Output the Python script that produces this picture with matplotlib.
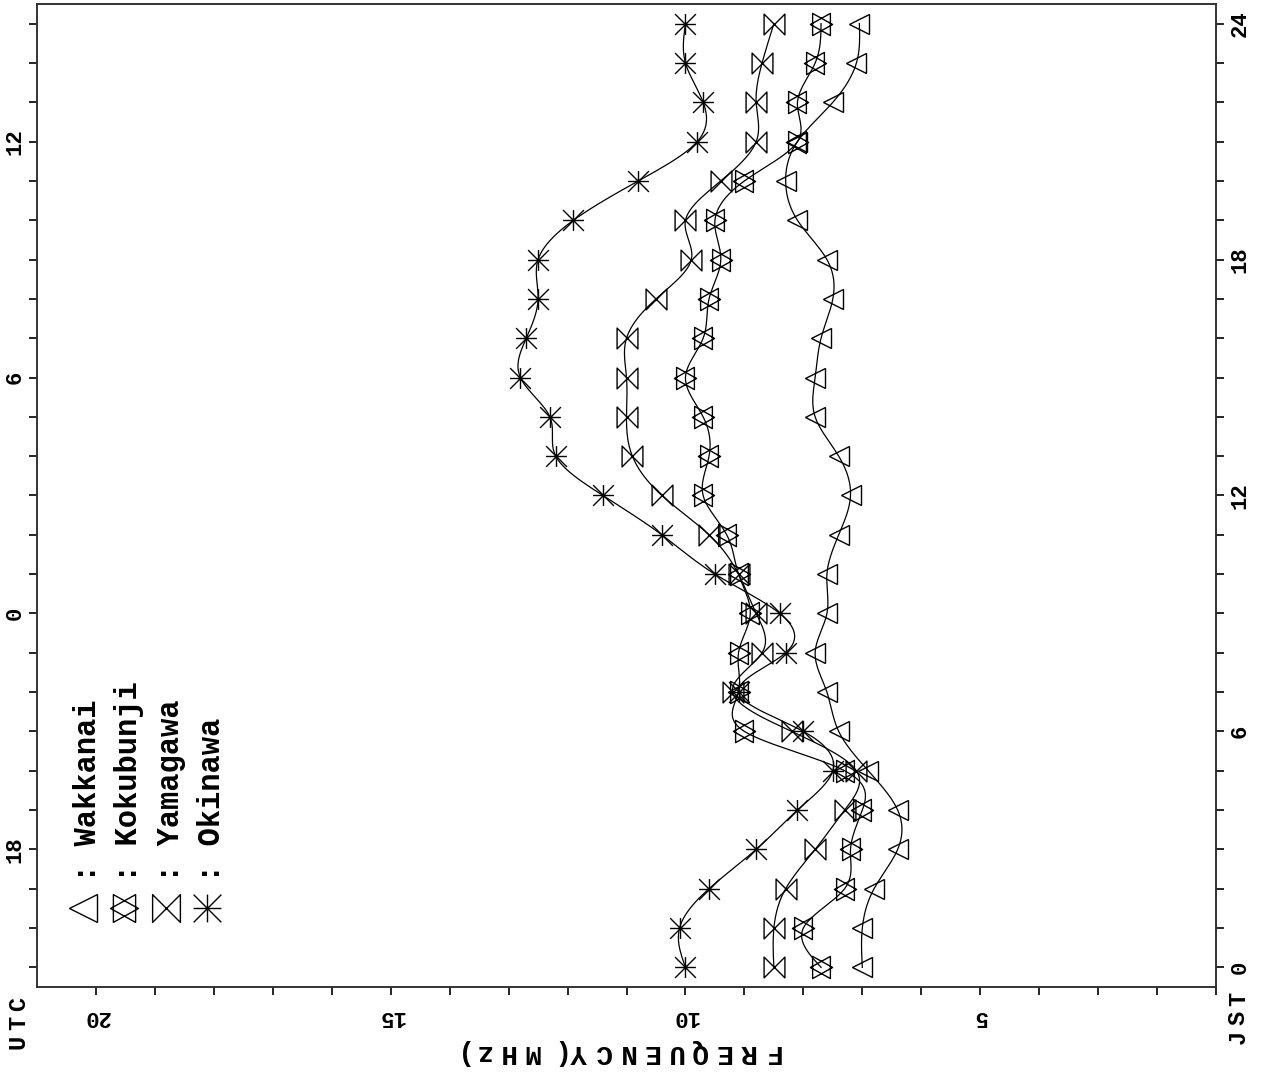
import numpy as np
import matplotlib
matplotlib.use("Agg")
import matplotlib.pyplot as plt
from matplotlib.path import Path

plt.rcParams['font.family'] = ['Liberation Mono', 'DejaVu Sans Mono']
plt.rcParams['font.weight'] = 'bold'

W, H = 1263, 1075

# JST hour of each reading
hours = list(range(25))

# frequencies (MHz), one per hour JST 0..24
wakkanai = [7.0, 7.0, 6.8, 6.4, 6.4, 6.9, 7.4, 7.6, 7.8, 7.6, 7.6, 7.4, 7.2,
            7.4, 7.8, 7.8, 7.7, 7.5, 7.6, 8.1, 8.3, 8.1, 7.5, 7.1, 7.05]
kokubunji = [7.7, 8.0, 7.3, 7.2, 7.0, 7.3, 9.0, 9.1, 9.1, 8.9, 9.1, 9.3, 9.7,
             9.6, 9.7, 10.0, 9.7, 9.6, 9.4, 9.5, 9.0, 8.1, 8.1, 7.8, 7.7]
yamagawa = [8.5, 8.5, 8.3, 7.8, 7.3, 7.1, 8.2, 9.2, 8.7, 8.8, 9.1, 9.6, 10.4,
            10.9, 11.0, 11.0, 11.0, 10.5, 9.9, 10.0, 9.4, 8.8, 8.8, 8.7, 8.5]
okinawa = [10.0, 10.1, 9.6, 8.8, 8.1, 7.5, 8.0, 9.1, 8.3, 8.4, 9.5, 10.4, 11.4,
           12.2, 12.3, 12.8, 12.7, 12.5, 12.5, 11.9, 10.8, 9.8, 9.7, 10.0, 10.0]

stations = ['Wakkanai', 'Kokubunji', 'Yamagawa', 'Okinawa']
series = [wakkanai, kokubunji, yamagawa, okinawa]

# marker shapes (the chart is drawn turned on its side)
L, M, C = Path.LINETO, Path.MOVETO, Path.CLOSEPOLY
hexagram = Path([(-1, 0), (0.8, 1), (0.8, -1), (-1, 0),
                 (1, 0), (-0.8, 1), (-0.8, -1), (1, 0)],
                [M, L, L, C, M, L, L, C])
bowtie = Path([(-1, 1), (1, -1), (1, 1), (-1, -1), (-1, 1)],
              [M, L, L, L, C])
asterisk = Path([(-1, 0), (1, 0), (0, -1), (0, 1),
                 (-1, -1), (1, 1), (-1, 1), (1, -1)],
                [M, L, M, L, M, L, M, L])
markers = ['<', hexagram, bowtie, asterisk]
sizes = [14, 16, 15, 15]


def smooth(t, v, n=12):
    # natural cubic spline, only used to draw the connecting curve
    t = np.asarray(t, float)
    v = np.asarray(v, float)
    k = len(t)
    h = np.diff(t)
    A = np.zeros((k, k))
    r = np.zeros(k)
    A[0, 0] = A[-1, -1] = 1
    for i in range(1, k - 1):
        A[i, i - 1] = h[i - 1]
        A[i, i] = 2 * (h[i - 1] + h[i])
        A[i, i + 1] = h[i]
        r[i] = 6 * ((v[i + 1] - v[i]) / h[i] - (v[i] - v[i - 1]) / h[i - 1])
    Mm = np.linalg.solve(A, r)
    tt = np.linspace(t[0], t[-1], (k - 1) * n + 1)
    idx = np.clip(np.searchsorted(t, tt) - 1, 0, k - 2)
    a, b = t[idx], t[idx + 1]
    hh = b - a
    s = (Mm[idx] * (b - tt) ** 3 + Mm[idx + 1] * (tt - a) ** 3) / (6 * hh) \
        + (v[idx] / hh - Mm[idx] * hh / 6) * (b - tt) \
        + (v[idx + 1] / hh - Mm[idx + 1] * hh / 6) * (tt - a)
    return tt, s


def spaced(fig, x, y, s, pitch, rot, size):
    # letter-spaced text, x/y in pixels from the top left; x,y = start of baseline
    for i, ch in enumerate(s):
        if rot == 180:
            px, py = x - i * pitch, y
        else:  # 90
            px, py = x, y - i * pitch
        fig.text(px / W, 1 - py / H, ch, rotation=rot, rotation_mode='anchor',
                 ha='center', va='baseline', fontsize=size)


fig = plt.figure(figsize=(W / 100, H / 100), dpi=100)
ax = fig.add_axes([37 / W, 1 - 987 / H, 1179 / W, 983 / H])

for vals, mk, ms in zip(series, markers, sizes):
    tt, ss = smooth(hours, vals)
    ax.plot(ss, tt, color='black', lw=0.9)
    ax.plot(vals, hours, linestyle='none', marker=mk, ms=ms,
            mfc='none', mec='black', mew=1.0)

ax.set_xlim(21, 1)
ax.set_ylim(-0.5, 24.5)

# frequency axis (bottom, upside down labels)
ax.set_xticks(range(1, 21))
ax.set_xticklabels([str(f) if f % 5 == 0 else '' for f in range(1, 21)],
                   rotation=180, fontsize=16)
ax.tick_params(axis='x', direction='out', length=6, width=1.2, pad=8)

# UTC on the left, JST on the right
ax.set_yticks(hours)
ax.set_yticklabels([str((h - 9) % 24) if (h - 3) % 6 == 0 else '' for h in hours],
                   rotation=90, va='center', fontsize=16)
ax.tick_params(axis='y', direction='out', length=6, width=1.2, pad=2)

ax2 = ax.twinx()
ax2.set_ylim(-0.5, 24.5)
ax2.set_yticks(hours)
ax2.set_yticklabels([str(h) if h % 6 == 0 else '' for h in hours],
                    rotation=90, va='center', fontsize=16)
ax2.tick_params(axis='y', direction='out', length=6, width=1.2, pad=4)

for a in (ax, ax2):
    for sp in a.spines.values():
        sp.set_linewidth(1.2)
        sp.set_color('#333333')

spaced(fig, 25, 1042, 'UTC', 19, 90, 17)
spaced(fig, 1245, 1037, 'JST', 19, 90, 17)
spaced(fig, 771, 1045, 'FREQUENCY(MHz)', 24, 180, 20)

# legend, drawn by hand in the same sideways layout
for i, (name, mk) in enumerate(zip(stations, markers)):
    x = (83 + i * 41.3 - 37) / 1179
    ax.plot([x], [(987 - 908) / 983], transform=ax.transAxes, clip_on=False,
            linestyle='none', marker=mk, ms=20, mfc='none', mec='black', mew=1.0)
    ax.text(x + 5 / 1179, (987 - 882) / 983, ': ' + name, transform=ax.transAxes,
            rotation=90, rotation_mode='anchor', ha='left', va='center',
            fontsize=22)

fig.savefig('out.png', dpi=100)
